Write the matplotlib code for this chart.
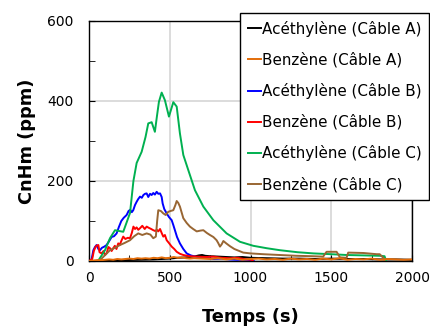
import matplotlib
matplotlib.use("Agg")
import matplotlib.pyplot as plt
from matplotlib.ticker import MultipleLocator

labels = ["Acéthylène (Câble A)", "Benzène (Câble A)", "Acéthylène (Câble B)",
          "Benzène (Câble B)", "Acéthylène (Câble C)", "Benzène (Câble C)"]
colors = ["#000000", "#E36C09", "#0000FF", "#FF0000", "#00B050", "#996633"]

acet_A_t = [0, 100, 200, 300, 400, 450, 500, 550, 600, 650, 680, 700, 720, 750, 800, 850, 900, 950,
            1000, 1100, 1200, 1300, 1400, 1500, 1600, 1700, 1800, 1900, 2000]
acet_A_v = [0, 1, 2, 3, 4, 5, 6, 8, 9, 11, 14, 15, 13, 12, 11, 10, 9, 10, 8, 7, 6, 6, 5, 6, 5, 5, 4, 4, 3]

benz_A_t = [0, 25, 50, 75, 100, 125, 150, 175, 200, 225, 250, 275, 300, 325, 350, 375, 400, 425, 450,
            475, 500, 525, 550, 575, 600, 625, 650, 700, 750, 800, 850, 900, 950, 1000, 1050, 1100,
            1150, 1200, 1250, 1300, 1350, 1400, 1450, 1500, 1550, 1600, 1650, 1700, 1750, 1800, 1850,
            1900, 1950, 2000]
benz_A_v = [0, 1, 2, 2, 3, 4, 3, 5, 4, 5, 6, 5, 7, 6, 7, 6, 8, 7, 9, 7, 8, 10, 8, 9, 7, 6, 7, 6, 5, 7,
            4, 6, 3, 5, 6, 4, 5, 3, 6, 4, 5, 3, 6, 4, 7, 3, 5, 4, 6, 3, 5, 4, 3, 4]

acet_B_t = [0, 15, 27, 37, 47, 58, 68, 80, 95, 109, 125, 140, 155, 171, 185, 200, 215, 233, 245, 255,
            265, 274, 285, 295, 305, 316, 327, 337, 347, 357, 367, 378, 388, 398, 408, 419, 429, 440,
            450, 456, 466, 481, 495, 512, 522, 532, 545, 563, 584, 605, 630, 667, 700, 740, 770, 820,
            870, 920, 977, 1010, 1020]
acet_B_v = [0, 2, 27, 35, 40, 30, 27, 33, 36, 40, 50, 60, 62, 69, 85, 100, 108, 115, 125, 128, 122,
            127, 140, 148, 155, 161, 158, 165, 168, 169, 160, 168, 165, 170, 166, 173, 168, 169, 160,
            144, 130, 119, 110, 102, 90, 77, 60, 44, 30, 19, 14, 10, 8, 7, 5, 6, 4, 3, 3, 2, 0]

benz_B_t = [0, 20, 30, 37, 45, 58, 65, 78, 90, 99, 110, 120, 130, 140, 150, 160, 170, 181, 190, 200,
            212, 225, 240, 254, 265, 275, 285, 295, 305, 316, 330, 345, 357, 370, 385, 398, 410, 420,
            429, 440, 450, 460, 470, 481, 495, 512, 528, 543, 563, 584, 620, 667, 720, 770, 820, 873,
            920, 960, 1006, 1015]
benz_B_v = [0, 5, 25, 32, 38, 40, 22, 19, 25, 15, 20, 35, 32, 25, 32, 38, 30, 44, 40, 50, 61, 55, 58,
            57, 70, 86, 80, 84, 78, 82, 88, 80, 86, 83, 80, 77, 75, 78, 74, 80, 70, 61, 65, 52, 45, 36,
            30, 23, 18, 15, 12, 11, 10, 11, 8, 7, 8, 5, 3, 0]

acet_C_t = [0, 56, 99, 130, 161, 212, 254, 275, 295, 326, 350, 367, 388, 408, 420, 433, 450, 470, 495,
            522, 543, 563, 584, 615, 656, 708, 770, 852, 935, 1017, 1100, 1182, 1290, 1389, 1500, 1595,
            1700, 1801, 1830, 1840]
acet_C_v = [0, 0, 27, 57, 77, 73, 120, 200, 245, 273, 310, 344, 347, 323, 360, 398, 421, 402, 361, 397,
            386, 319, 265, 227, 177, 136, 102, 69, 48, 38, 32, 27, 22, 19, 17, 15, 14, 13, 12, 0]

benz_C_t = [0, 40, 68, 100, 130, 160, 192, 220, 254, 280, 305, 330, 357, 380, 398, 414, 422, 429, 445,
            460, 475, 491, 505, 522, 535, 543, 553, 563, 584, 605, 625, 645, 667, 690, 708, 730, 749,
            770, 790, 800, 811, 822, 832, 850, 873, 900, 955, 1000, 1079, 1180, 1285, 1380, 1450, 1460,
            1471, 1533, 1545, 1554, 1595, 1600, 1605, 1700, 1781, 1800, 1822, 1830]
benz_C_v = [0, 0, 2, 15, 27, 33, 40, 45, 52, 62, 69, 65, 69, 66, 57, 61, 100, 127, 125, 119, 115, 123,
            125, 127, 140, 150, 145, 136, 107, 95, 86, 80, 74, 76, 77, 70, 65, 60, 52, 45, 36, 42, 50,
            44, 37, 30, 21, 19, 17, 15, 13, 12, 11, 17, 23, 23, 15, 9, 8, 15, 21, 20, 17, 17, 8, 0]

series = [(acet_A_t, acet_A_v), (benz_A_t, benz_A_v), (acet_B_t, acet_B_v),
          (benz_B_t, benz_B_v), (acet_C_t, acet_C_v), (benz_C_t, benz_C_v)]
zorders = [3, 8, 4, 5, 6, 7]

plt.rcParams['font.family'] = ['DejaVu Sans']
fig = plt.figure(figsize=(4.3, 3.27), dpi=100)
ax = fig.add_axes([89/430, 1-261/327, 323/430, 240/327])

for (t, v), lab, c, z in zip(series, labels, colors, zorders):
    ax.plot(t, v, color=c, lw=1.4, label=lab, zorder=z)

ax.set_xlim(0, 2000)
ax.set_ylim(0, 600)
ax.xaxis.set_major_locator(MultipleLocator(500))
ax.xaxis.set_minor_locator(MultipleLocator(250))
ax.yaxis.set_major_locator(MultipleLocator(200))
ax.yaxis.set_minor_locator(MultipleLocator(100))
ax.tick_params(which='both', direction='in', top=False, right=False, labelsize=10)
ax.tick_params(axis='x', pad=7)
ax.tick_params(axis='y', pad=11)
ax.tick_params(which='major', length=4)
ax.tick_params(which='minor', length=4)
ax.grid(True, which='major', color='#D9D9D9', lw=1.3, zorder=0)
ax.set_axisbelow(True)
for s in ax.spines.values():
    s.set_color('black')
    s.set_linewidth(1.0)

ax.set_xlabel("Temps (s)", fontsize=12.8, fontweight='bold', labelpad=17)
ax.set_ylabel("CnHm (ppm)", fontsize=12.8, fontweight='bold', labelpad=8)

leg = ax.legend(loc='upper left', bbox_to_anchor=(240/430, 1-13/327), bbox_transform=fig.transFigure,
                fontsize=10.9, handlelength=0.9, handletextpad=0.05, labelspacing=1.02,
                fancybox=False, edgecolor='black', framealpha=1, borderpad=0.5, borderaxespad=0)
leg.get_frame().set_linewidth(1.0)

fig.savefig("out.png", dpi=100)
